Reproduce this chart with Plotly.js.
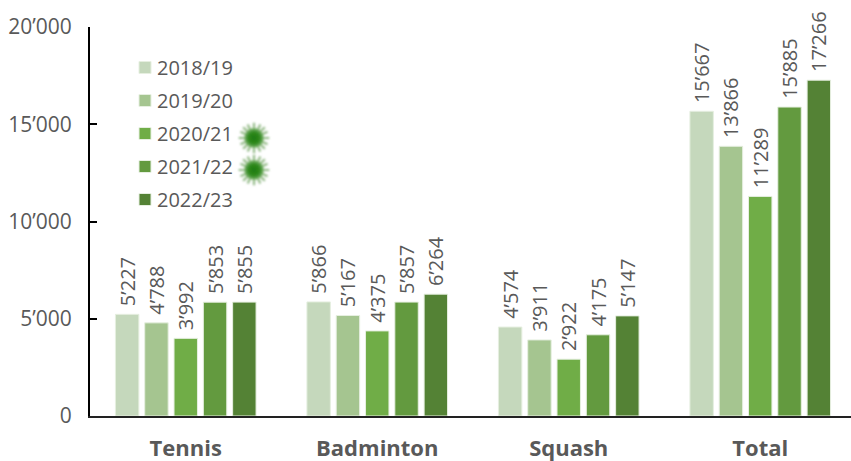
<!DOCTYPE html>
<html><head><meta charset="utf-8">
<script src="https://cdn.plot.ly/plotly-3.0.1.min.js"></script>
<style>html,body{margin:0;padding:0;background:#fff}</style></head>
<body><div id="chart" style="width:851px;height:461px"></div>
<script>
const categories = ['Tennis','Badminton','Squash','Total'];
const seasons = ['2018/19','2019/20','2020/21','2021/22','2022/23'];
const v1819 = [5227,5866,4574,15667];
const v1920 = [4788,5167,3911,13866];
const v2021 = [3992,4375,2922,11289];
const v2122 = [5853,5857,4175,15885];
const v2223 = [5855,6264,5147,17266];
const colors = ['#c5d8bc','#a5c590','#70ad47','#639a3f','#548235'];
const yTicks = [0,5000,10000,15000,20000];
const yTickText = ['0','5’000','10’000','15’000','20’000'];
const series = [v1819,v1920,v2021,v2122,v2223];
const fmt = v => '\u00a0' + String(v).replace(/\B(?=(\d{3})+$)/g,'’');
const FONT = '"Open Sans", sans-serif';
const virus = 'data:image/svg+xml;utf8,' + encodeURIComponent(
 '<svg xmlns="http://www.w3.org/2000/svg" viewBox="0 0 40 40"><defs><radialGradient id="g"><stop offset="0" stop-color="#1f7a10"/><stop offset=".6" stop-color="#2f8a1e"/><stop offset="1" stop-color="#7fb56f"/></radialGradient><filter id="b" x="-20%" y="-20%" width="140%" height="140%"><feGaussianBlur stdDeviation="1"/></filter></defs><g filter="url(#b)"><g stroke="#8fb882" stroke-width="2.4"><path d="M20 3V37M3 20H37M8 8L32 32M32 8L8 32M13 5L27 35M27 5L13 35M5 13L35 27M5 27L35 13"/></g><circle cx="20" cy="20" r="11" fill="url(#g)"/></g></svg>');
const traces = series.map((vals,i)=>({
  type:'bar', name:seasons[i], x:categories, y:vals,
  text:vals.map(fmt), textposition:'outside', textangle:-90, cliponaxis:false, constraintext:'none',
  textfont:{family:FONT,size:20,color:'#595959'},
  marker:{color:colors[i],line:{color:'#e6efe0',width:1}},
  legendgroup:seasons[i], hoverinfo:'x+y+name'
}));
Plotly.newPlot('chart',traces,{
  width:851,height:461,paper_bgcolor:'#fff',plot_bgcolor:'#fff',
  margin:{l:90,r:0,t:27,b:45},
  barmode:'group',bargap:0.235,bargroupgap:0.2,
  font:{family:FONT,color:'#595959'},
  xaxis:{type:'category',range:[-0.5,3.474],showgrid:false,zeroline:false,
    showline:true,linecolor:'#222',linewidth:2,ticks:'',
    tickfont:{family:FONT,size:22,color:'#595959',weight:'bold'},ticklabelstandoff:12},
  yaxis:{range:[0,20000],tickmode:'array',tickvals:yTicks,ticktext:yTickText,
    showgrid:false,zeroline:false,showline:true,linecolor:'#000',linewidth:2,
    ticks:'inside',ticklen:7,tickwidth:2,tickcolor:'#000',ticklabelstandoff:12,
    tickfont:{family:FONT,size:21,color:'#595959'}},
  showlegend:true,
  legend:{x:(132-90)/761,y:1-(48-27)/389,xanchor:'left',yanchor:'top',bgcolor:'rgba(0,0,0,0)',
    font:{family:FONT,size:20,color:'#595959'},tracegroupgap:4,indentation:-15,traceorder:'grouped'},
  images:[138,170].map(y=>({source:virus,xref:'paper',yref:'paper',x:(254-90)/761,y:1-(y-27)/389,
    sizex:36/761,sizey:36/389,xanchor:'center',yanchor:'middle',sizing:'contain',layer:'above'}))
},{displayModeBar:false}).then(()=>{
  document.querySelectorAll('.legendsymbols').forEach(g=>g.setAttribute('transform','translate(8,0)'));
});
</script></body></html>
